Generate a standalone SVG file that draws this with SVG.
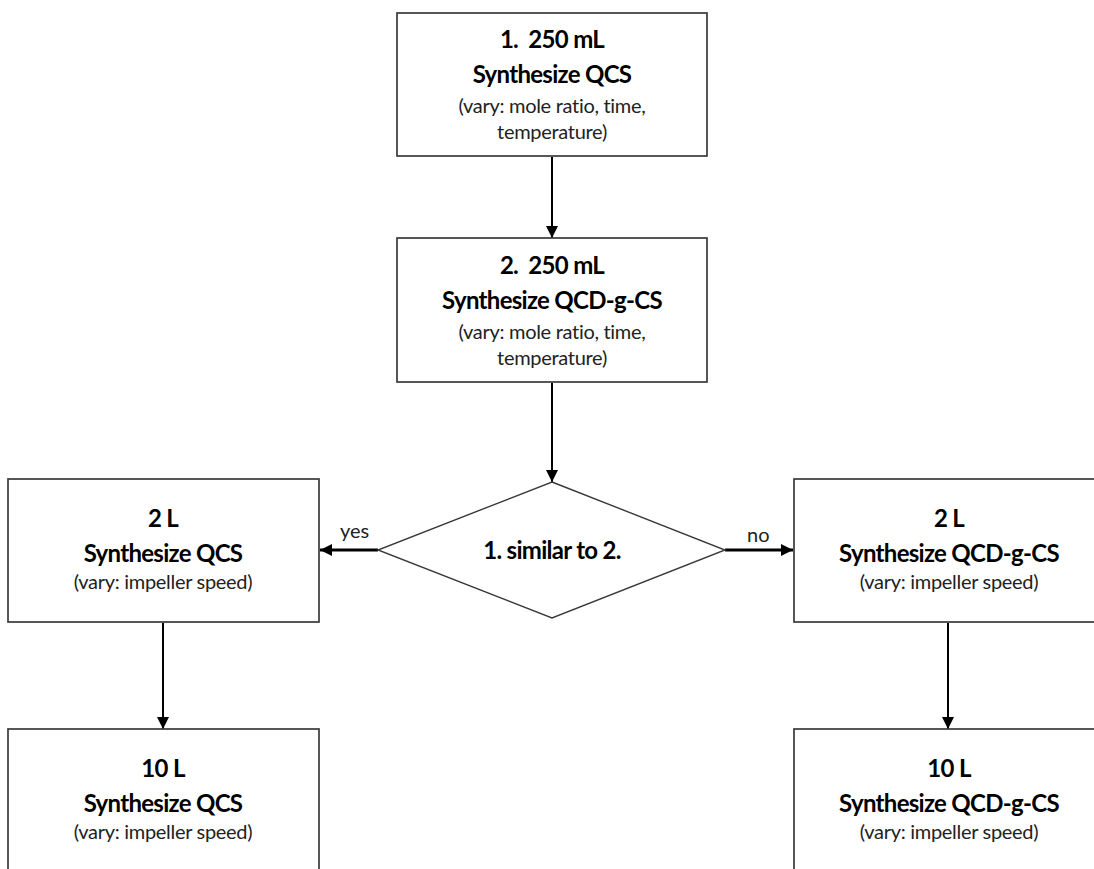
<svg xmlns="http://www.w3.org/2000/svg" width="1094" height="869" viewBox="0 0 1094 869">
<defs>
<style>
.box{fill:#fff;stroke:#3a3a3a;stroke-width:1.7}
.dia{fill:#fff;stroke:#3a3a3a;stroke-width:1.4}
.b{font-family:Lato,"Liberation Sans",sans-serif;font-weight:bold;font-size:24px;letter-spacing:-0.7px;fill:#000;text-anchor:middle}
.r{font-family:Lato,"Liberation Sans",sans-serif;font-size:20px;letter-spacing:-0.3px;fill:#222;text-anchor:middle}
.lbl{font-family:Lato,"Liberation Sans",sans-serif;font-size:20px;fill:#222}
.c{stroke:#000;stroke-width:2;fill:none}
.ch{stroke:#000;stroke-width:2.8;fill:none}
</style>
<marker id="ah" viewBox="0 0 10 10" refX="10" refY="5" markerWidth="12" markerHeight="12" markerUnits="userSpaceOnUse" orient="auto">
<path d="M0,0 L10,5 L0,10 Z" fill="#000"/>
</marker>
</defs>
<rect width="1094" height="869" fill="#fff"/>
<g id="connectors">
<line class="c" x1="552" y1="157" x2="552" y2="238" marker-end="url(#ah)"/>
<line class="c" x1="552" y1="383" x2="552" y2="482" marker-end="url(#ah)"/>
<line class="ch" x1="378" y1="550" x2="320" y2="550" marker-end="url(#ah)"/>
<line class="ch" x1="725" y1="550" x2="793" y2="550" marker-end="url(#ah)"/>
<line class="c" x1="163" y1="623" x2="163" y2="729" marker-end="url(#ah)"/>
<line class="c" x1="948" y1="623" x2="948" y2="729" marker-end="url(#ah)"/>
<text class="lbl" x="340" y="538">yes</text>
<text class="lbl" x="747" y="542">no</text>
</g>
<g id="n1">
<rect class="box" x="397" y="13" width="310" height="143"/>
<text class="b" x="552" y="48">1.&#160; 250 mL</text>
<text class="b" x="552" y="83">Synthesize QCS</text>
<text class="r" x="552" y="113">(vary: mole ratio, time,</text>
<text class="r" x="552" y="139">temperature)</text>
</g>
<g id="n2">
<rect class="box" x="397" y="238" width="310" height="144"/>
<text class="b" x="552" y="274">2.&#160; 250 mL</text>
<text class="b" x="552" y="309">Synthesize QCD-g-CS</text>
<text class="r" x="552" y="339">(vary: mole ratio, time,</text>
<text class="r" x="552" y="365">temperature)</text>
</g>
<g id="decision">
<polygon class="dia" points="552,482 725,550 552,618 378,550"/>
<text class="b" x="552" y="559">1. similar to 2.</text>
</g>
<g id="n3">
<rect class="box" x="8" y="479" width="311" height="143"/>
<text class="b" x="163" y="527">2 L</text>
<text class="b" x="163" y="562">Synthesize QCS</text>
<text class="r" x="163" y="589">(vary: impeller speed)</text>
</g>
<g id="n4">
<rect class="box" x="794" y="479" width="311" height="143"/>
<text class="b" x="949" y="527">2 L</text>
<text class="b" x="949" y="562">Synthesize QCD-g-CS</text>
<text class="r" x="949" y="589">(vary: impeller speed)</text>
</g>
<g id="n5">
<rect class="box" x="8" y="729" width="311" height="160"/>
<text class="b" x="163" y="777">10 L</text>
<text class="b" x="163" y="812">Synthesize QCS</text>
<text class="r" x="163" y="839">(vary: impeller speed)</text>
</g>
<g id="n6">
<rect class="box" x="794" y="729" width="311" height="160"/>
<text class="b" x="949" y="777">10 L</text>
<text class="b" x="949" y="812">Synthesize QCD-g-CS</text>
<text class="r" x="949" y="839">(vary: impeller speed)</text>
</g>
</svg>
